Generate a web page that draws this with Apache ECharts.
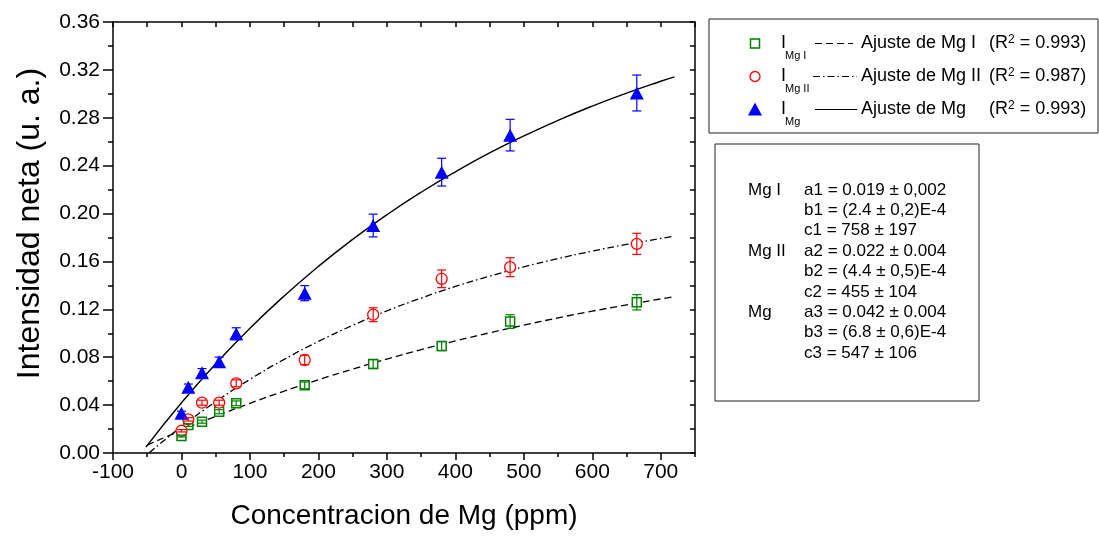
<!DOCTYPE html>
<html>
<head>
<meta charset="utf-8">
<script src="https://cdn.jsdelivr.net/npm/echarts@6/dist/echarts.min.js"></script>
<style>
  html, body { margin: 0; padding: 0; background: #fff; }
  #chart { width: 1099px; height: 536px; }
</style>
</head>
<body>
<div id="chart"></div>
<script>
// Measured standards: Mg concentration (ppm) and net intensity (a.u.)
const concentration = [0, 10, 30, 55, 80, 180, 280, 380, 480, 665];

const intensityMgI  = [0.0142, 0.0234, 0.0262, 0.0345, 0.0415, 0.0565, 0.0743, 0.0893, 0.1098, 0.1259];
const errorMgI      = [0.0008, 0.0012, 0.0013, 0.0017, 0.0020, 0.0028, 0.0037, 0.0038, 0.0057, 0.0064];

const intensityMgII = [0.0186, 0.0281, 0.0420, 0.0420, 0.0582, 0.0777, 0.1155, 0.1455, 0.1552, 0.1747];
const errorMgII     = [0.0010, 0.0014, 0.0021, 0.0021, 0.0029, 0.0039, 0.0058, 0.0074, 0.0079, 0.0088];

const intensityMg   = [0.0332, 0.0549, 0.0671, 0.0763, 0.0996, 0.1335, 0.1900, 0.2346, 0.2655, 0.3007];
const errorMg       = [0.0017, 0.0027, 0.0034, 0.0038, 0.0050, 0.0063, 0.0095, 0.0116, 0.0132, 0.0150];

// Fitted curves (sampled)
const fitXMgI  = [-50, 0, 50, 100, 150, 200, 250, 300, 350, 400, 450, 500, 550, 600, 650, 700, 720];
const fitYMgI  = [0.0066, 0.0190, 0.0306, 0.0415, 0.0517, 0.0612, 0.0701, 0.0785, 0.0863, 0.0936, 0.1004, 0.1068, 0.1129, 0.1185, 0.1237, 0.1287, 0.1306];
const fitXMgII = [-47, 0, 50, 100, 150, 200, 250, 300, 350, 400, 450, 500, 550, 600, 650, 700, 720];
const fitYMgII = [0.0002, 0.0220, 0.0428, 0.0615, 0.0782, 0.0932, 0.1066, 0.1187, 0.1294, 0.1391, 0.1477, 0.1555, 0.1624, 0.1686, 0.1742, 0.1792, 0.1811];
const fitXMg   = [-52, 0, 50, 100, 150, 200, 250, 300, 350, 400, 450, 500, 550, 600, 650, 700, 720];
const fitYMg   = [0.0049, 0.0420, 0.0745, 0.1042, 0.1312, 0.1559, 0.1784, 0.1990, 0.2178, 0.2349, 0.2506, 0.2648, 0.2779, 0.2898, 0.3006, 0.3105, 0.3142];

// Legend and fit-parameter texts
const seriesNames = ['I Mg I', 'I Mg II', 'I Mg'];
const subscripts  = ['Mg I', 'Mg II', 'Mg'];
const fitNames    = ['Ajuste de Mg I', 'Ajuste de Mg II', 'Ajuste de Mg'];
const r2Values    = ['0.993', '0.987', '0.993'];
const paramGroups = ['Mg I', 'Mg II', 'Mg'];
const paramLines  = [
  ['a1 = 0.019 \u00b1 0,002', 'b1 = (2.4 \u00b1 0,2)E-4', 'c1 = 758 \u00b1 197'],
  ['a2 = 0.022 \u00b1 0.004', 'b2 = (4.4 \u00b1 0,5)E-4', 'c2 = 455 \u00b1 104'],
  ['a3 = 0.042 \u00b1 0.004', 'b3 = (6.8 \u00b1 0,6)E-4', 'c3 = 547 \u00b1 106']
];

const FONT = "'Liberation Sans', Arial, Helvetica, sans-serif";
const GREEN = '#008000', RED = '#ff0000', BLUE = '#0000ff';
const DASH = [7, 4];
const DASH_DOT = [7, 3, 1.5, 3];

const pairs = (xs, ys) => xs.map((x, i) => [x, ys[i]]);
const triples = (xs, ys, es) => xs.map((x, i) => [x, ys[i], es[i]]);

function errorBars(color) {
  return function (params, api) {
    const x = api.value(0), y = api.value(1), e = api.value(2);
    const hi = api.coord([x, y + e]);
    const lo = api.coord([x, y - e]);
    const w = 4.5;
    const style = { stroke: color, lineWidth: 1.2, fill: null };
    return {
      type: 'group',
      children: [
        { type: 'line', shape: { x1: hi[0], y1: hi[1], x2: lo[0], y2: lo[1] }, style },
        { type: 'line', shape: { x1: hi[0] - w, y1: hi[1], x2: hi[0] + w, y2: hi[1] }, style },
        { type: 'line', shape: { x1: lo[0] - w, y1: lo[1], x2: lo[0] + w, y2: lo[1] }, style }
      ]
    };
  };
}

// Legend box and fit-parameter box
const graphics = [];
graphics.push({ type: 'rect', shape: { x: 709, y: 19, width: 389, height: 114 },
  style: { fill: '#fff', stroke: '#222', lineWidth: 1 }, z: 10 });
const rowY0 = 43.5, rowStep = 33;
const markerX = 755;
const lineDashes = [DASH, DASH_DOT, null];
for (let i = 0; i < 3; i++) {
  const cy = rowY0 + i * rowStep;
  if (i === 0) {
    graphics.push({ type: 'rect', shape: { x: markerX - 4.5, y: cy - 4.5, width: 9, height: 9 },
      style: { fill: '#fff', stroke: GREEN, lineWidth: 1.5 }, z: 11 });
  } else if (i === 1) {
    graphics.push({ type: 'circle', shape: { cx: markerX, cy: cy, r: 5 },
      style: { fill: '#fff', stroke: RED, lineWidth: 1.3 }, z: 11 });
  } else {
    graphics.push({ type: 'polygon', shape: { points: [[markerX, cy - 7], [markerX + 7, cy + 6], [markerX - 7, cy + 6]] },
      style: { fill: BLUE }, z: 11 });
  }
  graphics.push({ type: 'text', x: 781, y: cy, z: 11,
    style: { text: 'I', fontSize: 18, fontFamily: FONT, fill: '#000', align: 'left', verticalAlign: 'middle' } });
  graphics.push({ type: 'text', x: 785, y: cy + 12.5, z: 11,
    style: { text: subscripts[i], fontSize: 11, fontFamily: FONT, fill: '#000', align: 'left', verticalAlign: 'middle' } });
  const x1 = i === 1 ? 813 : 815, x2 = i === 0 ? 853 : 857;
  graphics.push({ type: 'line', shape: { x1: x1, y1: cy, x2: x2, y2: cy }, z: 11,
    style: { stroke: '#000', lineWidth: 1.2, lineDash: lineDashes[i] || null } });
  graphics.push({ type: 'text', x: 861, y: cy, z: 11,
    style: { text: fitNames[i], fontSize: 18, fontFamily: FONT, fill: '#000', align: 'left', verticalAlign: 'middle' } });
  graphics.push({ type: 'text', x: 989, y: cy, z: 11,
    style: {
      text: '{t|(R}{s|2}{t| = ' + r2Values[i] + ')}',
      rich: {
        t: { fontSize: 18, fontFamily: FONT, fill: '#000', verticalAlign: 'middle', lineHeight: 20 },
        s: { fontSize: 12, fontFamily: FONT, fill: '#000', verticalAlign: 'top', lineHeight: 20 }
      },
      align: 'left', verticalAlign: 'middle'
    } });
}

graphics.push({ type: 'rect', shape: { x: 715, y: 144, width: 264, height: 257 },
  style: { fill: '#fff', stroke: '#222', lineWidth: 1 }, z: 10 });
const paramY0 = 190, paramStep = 20.4;
for (let g = 0; g < 3; g++) {
  graphics.push({ type: 'text', x: 748, y: paramY0 + g * 3 * paramStep, z: 11,
    style: { text: paramGroups[g], fontSize: 17, fontFamily: FONT, fill: '#000', align: 'left', verticalAlign: 'middle' } });
  for (let k = 0; k < 3; k++) {
    graphics.push({ type: 'text', x: 804, y: paramY0 + (g * 3 + k) * paramStep, z: 11,
      style: { text: paramLines[g][k], fontSize: 17, fontFamily: FONT, fill: '#000', align: 'left', verticalAlign: 'middle' } });
  }
}

const axisLineStyle = { color: '#000', width: 1.5 };

const option = {
  animation: false,
  backgroundColor: '#fff',
  grid: { left: 113, right: 404, top: 22, bottom: 83, containLabel: false },
  xAxis: [
    {
      type: 'value', position: 'bottom', min: -100, max: 750, interval: 100,
      axisLine: { show: true, onZero: false, lineStyle: axisLineStyle },
      axisTick: { show: true, inside: false, length: 7, lineStyle: axisLineStyle },
      axisLabel: { show: true, showMaxLabel: false, fontSize: 21, fontFamily: FONT, color: '#000', margin: 9 },
      splitLine: { show: false },
      name: 'Concentracion de Mg (ppm)', nameLocation: 'middle', nameGap: 49,
      nameTextStyle: { fontSize: 28, fontFamily: FONT, color: '#000' }
    },
    {
      type: 'value', position: 'bottom', min: -100, max: 750, interval: 50,
      axisLine: { show: false, onZero: false },
      axisTick: { show: true, inside: false, length: 4, lineStyle: axisLineStyle },
      axisLabel: { show: false }, splitLine: { show: false }
    },
    {
      type: 'value', position: 'top', min: -100, max: 750, interval: 50,
      axisLine: { show: true, onZero: false, lineStyle: axisLineStyle },
      axisTick: { show: true, inside: true, length: 5, lineStyle: axisLineStyle },
      axisLabel: { show: false }, splitLine: { show: false }
    }
  ],
  yAxis: [
    {
      type: 'value', position: 'left', min: 0, max: 0.36, interval: 0.04,
      axisLine: { show: true, onZero: false, lineStyle: axisLineStyle },
      axisTick: { show: true, inside: false, length: 10, lineStyle: axisLineStyle },
      minorTick: { show: true, splitNumber: 2, length: 5, lineStyle: axisLineStyle },
      axisLabel: { formatter: v => v.toFixed(2), fontSize: 21, fontFamily: FONT, color: '#000', margin: 13 },
      splitLine: { show: false }, minorSplitLine: { show: false },
      name: 'Intensidad neta (u. a.)', nameLocation: 'middle', nameGap: 67, nameRotate: 90,
      nameTextStyle: { fontSize: 32, fontFamily: FONT, color: '#000', padding: [0, 0, 0, 28] }
    },
    {
      type: 'value', position: 'right', min: 0, max: 0.36, interval: 0.02,
      axisLine: { show: true, onZero: false, lineStyle: axisLineStyle },
      axisTick: { show: true, inside: true, length: 5, lineStyle: axisLineStyle },
      axisLabel: { show: false }, splitLine: { show: false }
    }
  ],
  graphic: graphics,
  series: [
    { name: fitNames[0], type: 'line', data: pairs(fitXMgI, fitYMgI), symbol: 'none', smooth: true, silent: true,
      lineStyle: { color: '#000', width: 1.3, type: DASH }, z: 2 },
    { name: fitNames[1], type: 'line', data: pairs(fitXMgII, fitYMgII), symbol: 'none', smooth: true, silent: true,
      lineStyle: { color: '#000', width: 1.3, type: DASH_DOT }, z: 2 },
    { name: fitNames[2], type: 'line', data: pairs(fitXMg, fitYMg), symbol: 'none', smooth: true, silent: true,
      lineStyle: { color: '#000', width: 1.4, type: 'solid' }, z: 2 },

    { name: seriesNames[0], type: 'scatter', data: pairs(concentration, intensityMgI), symbol: 'rect', symbolSize: 9,
      itemStyle: { color: '#fff', borderColor: GREEN, borderWidth: 1.5, opacity: 1 }, z: 3 },
    { name: seriesNames[1], type: 'scatter', data: pairs(concentration, intensityMgII), symbol: 'circle', symbolSize: 11,
      itemStyle: { color: '#fff', borderColor: RED, borderWidth: 1.3, opacity: 1 }, z: 3 },
    { name: seriesNames[2], type: 'scatter', data: pairs(concentration, intensityMg), symbol: 'triangle', symbolSize: [14, 13],
      itemStyle: { color: BLUE, opacity: 1 }, z: 3 },

    { name: seriesNames[0] + ' error', type: 'custom', data: triples(concentration, intensityMgI, errorMgI),
      renderItem: errorBars(GREEN), encode: { x: 0, y: [1] }, silent: true, z: 4 },
    { name: seriesNames[1] + ' error', type: 'custom', data: triples(concentration, intensityMgII, errorMgII),
      renderItem: errorBars(RED), encode: { x: 0, y: [1] }, silent: true, z: 4 },
    { name: seriesNames[2] + ' error', type: 'custom', data: triples(concentration, intensityMg, errorMg),
      renderItem: errorBars(BLUE), encode: { x: 0, y: [1] }, silent: true, z: 4 }
  ]
};

const chart = echarts.init(document.getElementById('chart'), null, { renderer: 'canvas' });
chart.setOption(option);
</script>
</body>
</html>
